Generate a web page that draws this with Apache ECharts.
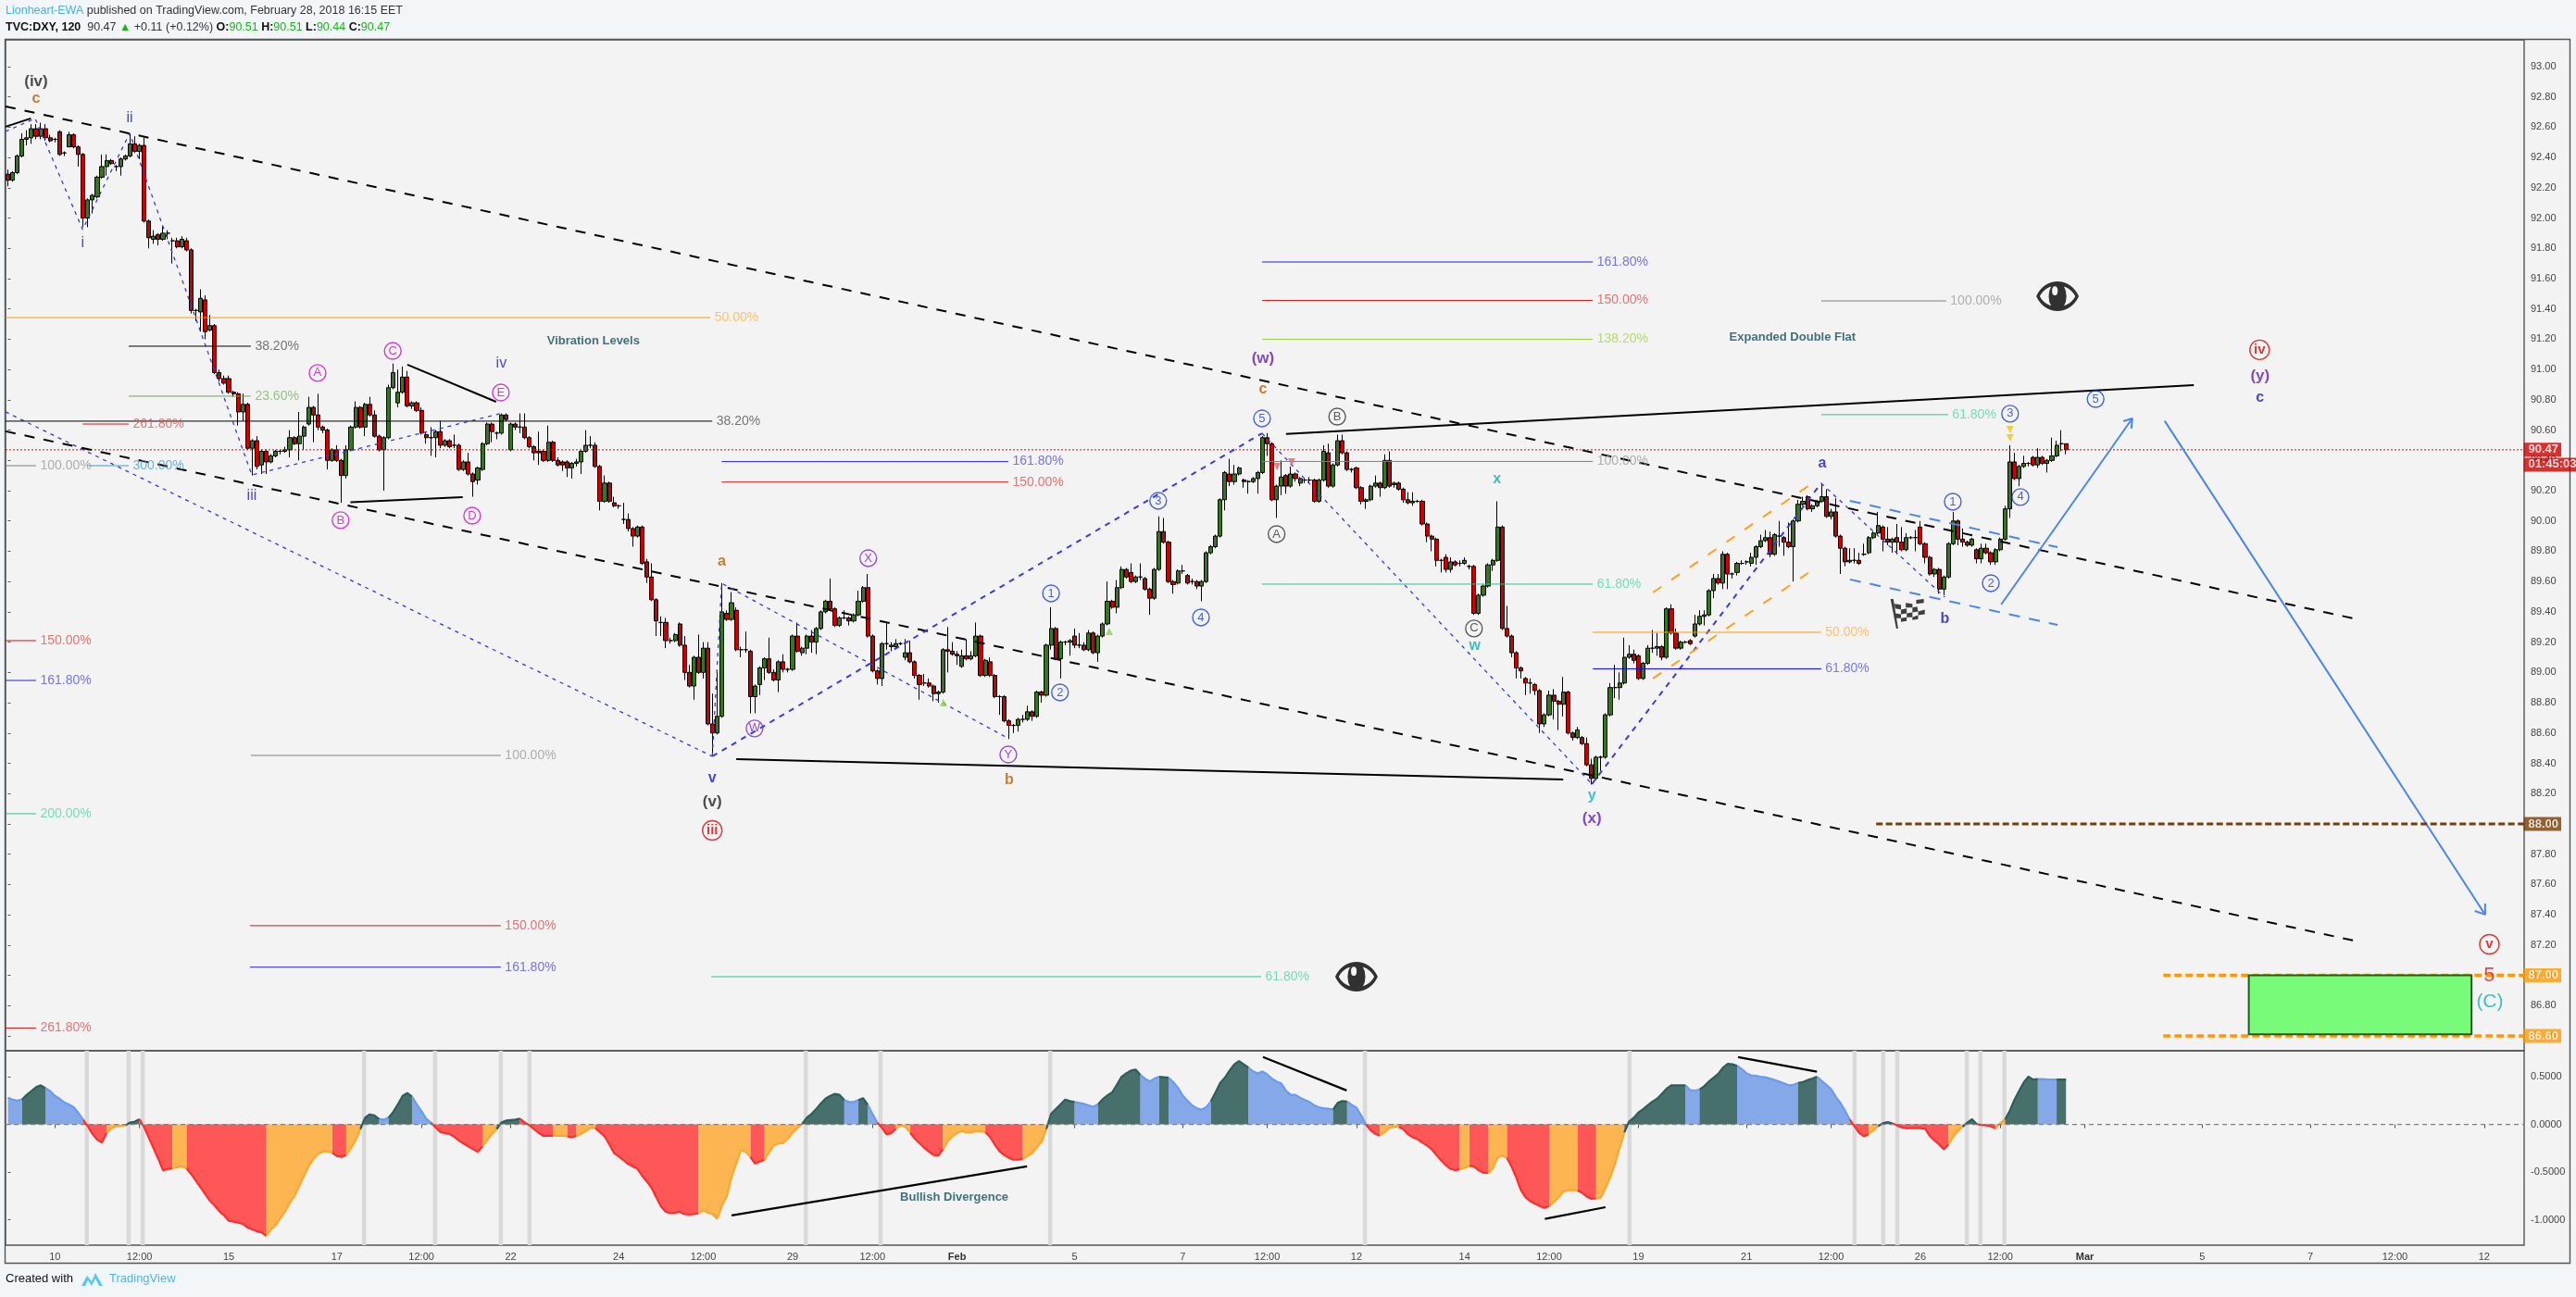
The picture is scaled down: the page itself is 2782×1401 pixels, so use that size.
<!DOCTYPE html>
<html>
<head>
<meta charset="utf-8">
<title>TVC:DXY, 120</title>
<style>html,body{margin:0;padding:0;background:#f2f6f9}#chart{width:2782px;height:1401px}</style>
<script src="https://cdn.jsdelivr.net/npm/echarts@6/dist/echarts.min.js"></script>
</head>
<body>
<div id="chart"></div>
<script>
// ---------- tick labels ----------
const slotCount = 536;
const timeTicks = [[10,'10'],[28,'12:00'],[47,'15'],[70,'17'],[88,'12:00'],[107,'22'],[130,'24'],[148,'12:00'],[167,'29'],[184,'12:00'],[202,'Feb'],[227,'5'],[250,'7'],[268,'12:00'],[287,'12'],[310,'14'],[328,'12:00'],[347,'19'],[370,'21'],[388,'12:00'],[407,'26'],[424,'12:00'],[442,'Mar'],[467,'5'],[490,'7'],[508,'12:00'],[527,'12']];
const priceTicks = [93,92.8,92.6,92.4,92.2,92,91.8,91.6,91.4,91.2,91,90.8,90.6,90.4,90.2,90,89.8,89.6,89.4,89.2,89,88.8,88.6,88.4,88.2,88,87.8,87.6,87.4,87.2,87,86.8,86.6];
const oscTicks = [0.5,0,-0.5,-1];

// ---------- candles: [open, close, low, high] ----------
const ohlc = [
[92.29,92.25,92.21,92.32],[92.25,92.30,92.24,92.31],[92.30,92.41,92.29,92.42],[92.41,92.52,92.40,92.56],[92.52,92.53,92.48,92.58],[92.53,92.59,92.49,92.62],[92.59,92.54,92.52,92.62],[92.54,92.59,92.52,92.63],[92.59,92.53,92.51,92.62],[92.53,92.51,92.50,92.55],
[92.52,92.52,92.50,92.53],[92.57,92.42,92.41,92.58],[92.43,92.43,92.41,92.44],[92.47,92.55,92.47,92.57],[92.55,92.47,92.46,92.56],[92.47,92.42,92.34,92.48],[92.42,92.00,91.94,92.43],[92.00,92.12,91.94,92.13],[92.12,92.15,92.03,92.16],[92.14,92.27,92.13,92.28],
[92.27,92.34,92.26,92.42],[92.34,92.38,92.28,92.42],[92.38,92.36,92.35,92.39],[92.34,92.34,92.31,92.35],[92.34,92.39,92.28,92.40],[92.39,92.41,92.38,92.42],[92.41,92.49,92.40,92.56],[92.49,92.44,92.43,92.54],[92.44,92.48,92.39,92.49],[92.48,91.98,91.97,92.53],
[91.98,91.87,91.80,91.99],[91.86,91.88,91.83,91.92],[91.89,91.86,91.82,91.90],[91.86,91.90,91.85,91.95],[91.90,91.90,91.86,91.92],[91.85,91.85,91.70,91.87],[91.85,91.81,91.80,91.87],[91.81,91.86,91.80,91.88],[91.85,91.79,91.78,91.87],[91.79,91.39,91.37,91.80],
[91.39,91.39,91.32,91.40],[91.38,91.47,91.25,91.53],[91.46,91.25,91.20,91.49],[91.26,91.29,91.25,91.36],[91.29,90.98,90.97,91.30],[90.98,90.94,90.92,91.00],[90.94,90.91,90.90,90.96],[90.94,90.85,90.84,90.96],[90.85,90.84,90.82,90.86],[90.84,90.72,90.63,90.85],
[90.72,90.77,90.66,90.84],[90.77,90.48,90.47,90.78],[90.48,90.53,90.30,90.54],[90.53,90.36,90.34,90.56],[90.37,90.46,90.31,90.47],[90.46,90.39,90.31,90.47],[90.39,90.43,90.38,90.44],[90.43,90.46,90.42,90.47],[90.46,90.46,90.44,90.47],[90.46,90.47,90.45,90.49],
[90.47,90.55,90.42,90.60],[90.55,90.51,90.50,90.56],[90.51,90.56,90.40,90.72],[90.56,90.62,90.47,90.63],[90.64,90.75,90.63,90.82],[90.75,90.70,90.52,90.76],[90.70,90.62,90.60,90.84],[90.62,90.60,90.58,90.63],[90.60,90.40,90.34,90.61],[90.40,90.47,90.39,90.48],
[90.47,90.40,90.39,90.50],[90.40,90.30,90.12,90.41],[90.30,90.47,90.28,90.50],[90.47,90.62,90.46,90.63],[90.62,90.75,90.61,90.79],[90.75,90.62,90.61,90.76],[90.62,90.77,90.56,90.78],[90.77,90.70,90.69,90.82],[90.70,90.56,90.55,90.73],[90.56,90.47,90.46,90.57],
[90.47,90.55,90.20,90.56],[90.55,90.88,90.54,90.90],[90.88,90.98,90.87,91.04],[90.78,90.85,90.75,91.00],[90.85,90.95,90.84,91.02],[90.95,90.76,90.75,90.99],[90.76,90.78,90.74,90.79],[90.78,90.73,90.72,90.79],[90.73,90.58,90.57,90.75],[90.57,90.55,90.51,90.59],
[90.55,90.55,90.43,90.62],[90.55,90.59,90.42,90.60],[90.59,90.50,90.48,90.66],[90.50,90.53,90.49,90.54],[90.53,90.49,90.48,90.54],[90.50,90.50,90.48,90.57],[90.50,90.34,90.33,90.51],[90.34,90.39,90.33,90.40],[90.39,90.31,90.30,90.45],[90.31,90.26,90.16,90.32],
[90.27,90.35,90.24,90.36],[90.34,90.51,90.33,90.52],[90.51,90.64,90.50,90.65],[90.64,90.59,90.52,90.65],[90.58,90.58,90.54,90.59],[90.58,90.70,90.57,90.71],[90.70,90.67,90.66,90.71],[90.47,90.64,90.46,90.65],[90.64,90.62,90.60,90.65],[90.62,90.62,90.58,90.71],
[90.62,90.55,90.54,90.71],[90.55,90.49,90.48,90.56],[90.49,90.45,90.40,90.50],[90.46,90.45,90.37,90.59],[90.46,90.40,90.39,90.47],[90.40,90.52,90.39,90.63],[90.52,90.40,90.39,90.53],[90.40,90.37,90.36,90.42],[90.39,90.37,90.33,90.40],[90.39,90.35,90.29,90.40],
[90.35,90.38,90.28,90.39],[90.38,90.39,90.36,90.41],[90.39,90.46,90.31,90.47],[90.46,90.50,90.45,90.60],[90.50,90.50,90.48,90.56],[90.50,90.36,90.35,90.52],[90.36,90.13,90.07,90.37],[90.13,90.25,90.12,90.30],[90.25,90.13,90.12,90.26],[90.12,90.10,90.09,90.16],
[90.10,90.10,90.08,90.11],[90.01,90.01,89.98,90.12],[90.01,89.95,89.93,90.05],[89.95,89.90,89.83,89.96],[89.90,89.96,89.89,89.97],[89.96,89.72,89.71,89.97],[89.73,89.63,89.59,89.75],[89.63,89.48,89.47,89.72],[89.48,89.34,89.24,89.49],[89.33,89.33,89.24,89.37],
[89.33,89.21,89.16,89.36],[89.21,89.21,89.19,89.23],[89.21,89.25,89.20,89.26],[89.32,89.18,89.17,89.33],[89.18,89.00,88.95,89.24],[89.00,88.91,88.90,89.05],[88.91,89.10,88.82,89.11],[89.10,89.00,88.99,89.25],[89.00,89.16,88.96,89.20],[89.16,88.66,88.65,89.20],
[88.66,88.60,88.45,88.86],[88.60,88.71,88.59,89.00],[88.71,89.40,88.70,89.59],[89.39,89.35,89.34,89.41],[89.35,89.46,89.34,89.53],[89.41,89.15,89.14,89.43],[89.15,89.15,89.10,89.17],[89.15,89.15,89.13,89.27],[89.14,88.84,88.73,89.15],[88.84,88.91,88.73,88.92],
[88.92,89.03,88.85,89.04],[89.03,89.09,88.95,89.10],[89.09,89.00,88.99,89.23],[89.00,88.95,88.94,89.02],[88.95,89.07,88.87,89.08],[89.07,89.02,89.00,89.12],[89.02,89.02,89.00,89.03],[89.02,89.24,89.01,89.25],[89.24,89.14,89.13,89.33],[89.13,89.16,89.11,89.17],
[89.16,89.24,89.12,89.25],[89.24,89.20,89.13,89.28],[89.20,89.29,89.12,89.30],[89.29,89.40,89.28,89.41],[89.40,89.47,89.39,89.48],[89.47,89.42,89.41,89.62],[89.42,89.31,89.30,89.43],[89.31,89.36,89.30,89.37],[89.36,89.36,89.35,89.41],[89.36,89.34,89.31,89.37],
[89.34,89.38,89.33,89.39],[89.38,89.47,89.37,89.54],[89.47,89.56,89.46,89.57],[89.56,89.24,89.23,89.65],[89.24,89.01,89.00,89.25],[89.01,88.96,88.92,89.02],[88.96,89.19,88.91,89.20],[89.19,89.19,89.15,89.33],[89.18,89.17,89.14,89.20],[89.17,89.19,89.16,89.22],
[89.19,89.19,89.18,89.20],[89.10,89.13,89.08,89.22],[89.13,89.07,89.06,89.21],[89.07,88.98,88.96,89.08],[88.98,88.92,88.82,88.99],[88.93,88.93,88.91,88.99],[88.93,88.91,88.90,88.96],[88.91,88.86,88.81,88.92],[88.86,88.87,88.80,88.88],[88.87,89.15,88.86,89.16],
[89.15,89.14,89.00,89.30],[89.14,89.12,89.11,89.20],[89.12,89.11,89.05,89.14],[89.04,89.11,89.03,89.15],[89.11,89.09,89.08,89.22],[89.09,89.11,89.08,89.14],[89.11,89.24,89.10,89.33],[89.24,88.98,88.97,89.25],[88.98,89.08,88.97,89.09],[89.07,88.98,88.97,89.10],
[88.98,88.84,88.83,88.99],[88.84,88.84,88.72,88.85],[88.84,88.68,88.67,88.85],[88.68,88.65,88.56,88.69],[88.65,88.65,88.60,88.66],[88.65,88.69,88.61,88.70],[88.69,88.69,88.67,88.72],[88.69,88.74,88.68,88.78],[88.74,88.71,88.68,88.75],[88.71,88.87,88.70,88.88],
[88.87,88.85,88.80,88.88],[88.85,89.18,88.84,89.19],[89.18,89.29,89.15,89.43],[89.29,89.09,89.08,89.30],[89.09,89.20,88.96,89.21],[89.20,89.20,89.18,89.21],[89.20,89.21,89.11,89.22],[89.24,89.18,89.16,89.29],[89.18,89.18,89.16,89.26],[89.18,89.15,89.14,89.20],
[89.15,89.26,89.14,89.28],[89.26,89.13,89.12,89.27],[89.13,89.24,89.07,89.25],[89.24,89.32,89.23,89.33],[89.32,89.47,89.31,89.60],[89.47,89.43,89.42,89.48],[89.43,89.56,89.39,89.61],[89.56,89.68,89.55,89.70],[89.68,89.63,89.62,89.69],[89.66,89.60,89.59,89.72],
[89.60,89.63,89.59,89.64],[89.63,89.63,89.61,89.72],[89.62,89.55,89.54,89.63],[89.55,89.49,89.38,89.56],[89.49,89.68,89.48,89.69],[89.68,89.93,89.67,90.03],[89.93,89.86,89.85,90.02],[89.86,89.60,89.59,89.87],[89.60,89.58,89.52,89.61],[89.59,89.67,89.58,89.68],
[89.67,89.67,89.65,89.71],[89.64,89.59,89.58,89.65],[89.60,89.60,89.58,89.62],[89.60,89.57,89.55,89.61],[89.57,89.60,89.47,89.61],[89.60,89.79,89.59,89.80],[89.79,89.83,89.78,89.84],[89.83,89.90,89.82,89.91],[89.90,90.14,89.89,90.15],[90.14,90.32,90.07,90.33],
[90.31,90.26,90.23,90.41],[90.26,90.31,90.24,90.37],[90.31,90.35,90.30,90.36],[90.27,90.26,90.22,90.28],[90.26,90.26,90.18,90.27],[90.26,90.28,90.25,90.29],[90.28,90.32,90.18,90.33],[90.32,90.55,90.31,90.56],[90.55,90.51,90.43,90.58],[90.51,90.14,90.13,90.52],
[90.14,90.23,90.02,90.24],[90.23,90.29,90.17,90.40],[90.30,90.23,90.18,90.31],[90.23,90.31,90.22,90.36],[90.31,90.28,90.26,90.32],[90.25,90.28,90.23,90.29],[90.27,90.27,90.25,90.28],[90.27,90.27,90.25,90.29],[90.27,90.13,90.12,90.28],[90.13,90.27,90.12,90.28],
[90.27,90.46,90.26,90.50],[90.45,90.23,90.22,90.51],[90.23,90.37,90.22,90.38],[90.37,90.53,90.36,90.57],[90.53,90.45,90.44,90.57],[90.45,90.34,90.33,90.46],[90.34,90.34,90.32,90.35],[90.35,90.22,90.21,90.36],[90.22,90.13,90.11,90.23],[90.13,90.14,90.08,90.15],
[90.14,90.23,90.13,90.24],[90.23,90.25,90.22,90.30],[90.25,90.22,90.16,90.26],[90.22,90.40,90.21,90.44],[90.40,90.23,90.22,90.46],[90.24,90.25,90.22,90.26],[90.25,90.21,90.20,90.26],[90.21,90.14,90.12,90.22],[90.14,90.12,90.11,90.19],[90.12,90.13,90.10,90.19],
[90.13,90.13,90.12,90.14],[90.13,89.98,89.97,90.14],[89.98,89.90,89.86,89.99],[89.90,89.88,89.80,89.91],[89.88,89.74,89.70,89.89],[89.74,89.74,89.66,89.75],[89.76,89.68,89.66,89.78],[89.68,89.73,89.66,89.76],[89.73,89.71,89.70,89.74],[89.72,89.72,89.70,89.74],
[89.72,89.74,89.71,89.76],[89.70,89.70,89.68,89.71],[89.70,89.39,89.38,89.71],[89.39,89.51,89.38,89.52],[89.51,89.57,89.50,89.58],[89.57,89.71,89.56,89.72],[89.71,89.74,89.67,89.75],[89.74,89.96,89.73,90.13],[89.96,89.29,89.28,89.97],[89.29,89.24,89.23,89.44],
[89.24,89.13,89.10,89.25],[89.13,89.03,88.96,89.14],[89.03,89.01,88.96,89.04],[88.96,88.93,88.85,88.97],[88.93,88.93,88.86,88.96],[88.92,88.88,88.85,88.93],[88.88,88.66,88.60,88.89],[88.66,88.72,88.64,88.73],[88.72,88.85,88.71,88.88],[88.85,88.81,88.69,88.89],
[88.81,88.79,88.62,88.82],[88.79,88.87,88.71,88.97],[88.87,88.60,88.59,88.88],[88.60,88.57,88.55,88.61],[88.57,88.62,88.56,88.64],[88.57,88.53,88.52,88.58],[88.53,88.39,88.38,88.57],[88.39,88.30,88.26,88.43],[88.30,88.44,88.29,88.45],[88.44,88.44,88.35,88.45],
[88.44,88.72,88.43,88.73],[88.72,88.90,88.71,88.93],[88.90,88.90,88.83,89.05],[88.90,88.93,88.82,89.00],[88.93,89.10,88.92,89.23],[89.10,89.12,89.09,89.18],[89.12,89.08,89.06,89.15],[89.11,88.96,88.95,89.12],[88.96,89.06,88.95,89.07],[89.06,89.16,89.05,89.18],
[89.16,89.16,89.13,89.28],[89.16,89.17,89.11,89.26],[89.17,89.10,89.08,89.18],[89.10,89.42,89.09,89.43],[89.42,89.26,89.25,89.45],[89.26,89.16,89.15,89.29],[89.16,89.20,89.15,89.21],[89.20,89.20,89.19,89.21],[89.21,89.19,89.18,89.22],[89.24,89.32,89.23,89.38],
[89.32,89.37,89.31,89.41],[89.37,89.38,89.31,89.41],[89.38,89.54,89.37,89.55],[89.54,89.62,89.49,89.65],[89.62,89.59,89.58,89.65],[89.59,89.78,89.55,89.80],[89.78,89.65,89.55,89.79],[89.65,89.65,89.62,89.66],[89.66,89.72,89.64,89.73],[89.72,89.72,89.71,89.74],
[89.73,89.73,89.71,89.74],[89.72,89.76,89.70,89.79],[89.76,89.83,89.71,89.84],[89.83,89.87,89.82,89.91],[89.87,89.89,89.86,89.94],[89.89,89.78,89.76,89.93],[89.78,89.91,89.77,89.92],[89.90,89.90,89.83,90.00],[89.89,89.86,89.77,89.90],[89.86,89.83,89.82,89.99],
[89.83,90.00,89.60,90.01],[90.00,90.11,89.99,90.14],[90.11,90.13,90.10,90.16],[90.16,90.08,90.07,90.17],[90.08,90.10,90.06,90.11],[90.10,90.13,90.09,90.14],[90.13,90.16,90.12,90.25],[90.16,90.03,90.02,90.21],[90.03,90.06,90.01,90.08],[90.06,89.90,89.89,90.15],
[89.90,89.82,89.65,89.91],[89.82,89.73,89.70,89.83],[89.73,89.74,89.72,89.82],[89.74,89.74,89.72,89.82],[89.74,89.72,89.71,89.79],[89.78,89.78,89.77,89.85],[89.79,89.89,89.78,89.90],[89.89,89.92,89.88,89.93],[89.92,89.97,89.91,90.06],[89.96,89.88,89.80,89.97],
[89.88,89.86,89.84,89.96],[89.86,89.88,89.79,89.89],[89.89,89.86,89.78,89.98],[89.86,89.81,89.80,89.96],[89.81,89.89,89.80,89.92],[89.89,89.89,89.88,89.90],[89.89,89.89,89.80,89.94],[89.96,89.85,89.84,90.00],[89.85,89.76,89.72,89.86],[89.76,89.65,89.64,89.77],
[89.65,89.68,89.63,89.69],[89.68,89.55,89.52,89.69],[89.55,89.63,89.51,89.64],[89.63,89.85,89.62,89.86],[89.85,90.00,89.84,90.06],[90.00,89.88,89.84,90.01],[89.88,89.86,89.83,89.95],[89.86,89.84,89.83,89.87],[89.84,89.88,89.83,89.89],[89.81,89.75,89.72,89.82],
[89.75,89.82,89.72,89.85],[89.82,89.79,89.78,89.85],[89.79,89.73,89.71,89.80],[89.73,89.81,89.71,89.82],[89.81,89.88,89.80,89.89],[89.88,90.08,89.87,90.10],[90.08,90.39,90.02,90.50],[90.39,90.28,90.27,90.45],[90.28,90.36,90.23,90.37],[90.36,90.38,90.35,90.43],
[90.38,90.38,90.36,90.39],[90.42,90.37,90.36,90.43],[90.37,90.42,90.35,90.48],[90.42,90.38,90.37,90.43],[90.38,90.40,90.32,90.41],[90.40,90.43,90.39,90.55],[90.43,90.50,90.42,90.53],[90.51,90.51,90.46,90.60],[90.51,90.47,90.44,90.51]
];

// ---------- oscillator values ----------
const oscValues = [
.28,.26,.25,.26,.31,.35,.39,.41,.38,.35,.30,.27,.23,.21,.18,.12,.05,-.02,-.10,-.16,-.19,-.09,-.04,-.02,-.015,-.01,.02,.03,.055,-.03,
-.14,-.25,-.36,-.48,-.47,-.46,-.45,-.44,-.46,-.52,-.59,-.66,-.73,-.80,-.85,-.91,-.95,-1.01,-1.02,-1.03,-1.04,-1.08,-1.10,-1.12,-1.13,-1.17,-1.10,-1.055,-.98,-.91,
-.82,-.75,-.645,-.54,-.44,-.36,-.31,-.285,-.285,-.295,-.33,-.34,-.32,-.25,-.165,-.05,.07,.105,.095,.055,.05,.07,.13,.21,.30,.33,.29,.21,.14,.06,
.02,-.03,-.08,-.09,-.10,-.13,-.17,-.20,-.23,-.26,-.285,-.23,-.165,-.10,-.05,.02,.04,.045,.05,.06,.02,-.01,-.05,-.09,-.12,-.12,-.12,-.12,-.12,-.125,
-.135,-.12,-.10,-.07,-.035,-.04,-.08,-.125,-.21,-.30,-.335,-.375,-.415,-.44,-.465,-.54,-.60,-.665,-.765,-.86,-.915,-.93,-.925,-.915,-.94,-.945,-.94,-.93,-.90,-.925,
-.94,-.985,-.845,-.75,-.55,-.41,-.27,-.285,-.34,-.41,-.39,-.37,-.295,-.22,-.20,-.195,-.15,-.085,-.04,.005,.07,.11,.16,.22,.27,.30,.32,.31,.255,.235,
.235,.255,.275,.205,.11,.02,-.035,-.105,-.09,-.045,-.01,-.025,-.085,-.15,-.195,-.245,-.285,-.32,-.325,-.26,-.175,-.125,-.09,-.07,-.085,-.085,-.07,-.07,-.08,-.13,
-.21,-.28,-.32,-.35,-.37,-.37,-.36,-.33,-.30,-.24,-.18,-.05,.11,.16,.21,.26,.245,.235,.225,.215,.20,.185,.21,.265,.305,.335,.415,.50,.535,.565,
.575,.52,.48,.45,.48,.50,.495,.49,.445,.385,.305,.25,.20,.17,.155,.18,.24,.335,.435,.49,.565,.63,.665,.63,.595,.555,.535,.555,.525,.48,
.45,.43,.355,.31,.31,.28,.255,.235,.20,.18,.17,.165,.155,.225,.245,.24,.205,.175,.095,-.002,-.06,-.10,-.115,-.08,-.035,-.025,-.025,-.05,-.105,-.135,
-.155,-.19,-.22,-.26,-.32,-.375,-.425,-.465,-.48,-.47,-.455,-.435,-.44,-.48,-.505,-.51,-.465,-.35,-.325,-.35,-.44,-.555,-.69,-.765,-.805,-.83,-.855,-.875,-.855,-.815,
-.765,-.705,-.69,-.69,-.69,-.715,-.755,-.78,-.775,-.765,-.665,-.555,-.415,-.245,-.085,.03,.07,.125,.16,.20,.24,.27,.32,.375,.41,.41,.41,.41,.36,.355,
.365,.40,.45,.49,.53,.595,.635,.63,.615,.58,.535,.515,.51,.50,.495,.48,.465,.45,.43,.41,.415,.435,.445,.465,.48,.50,.455,.415,.37,.29,
.225,.14,.05,-.02,-.09,-.125,-.10,-.06,-.02,.012,.025,.012,-.01,-.03,-.04,-.04,-.04,-.04,-.045,-.12,-.165,-.21,-.26,-.21,-.13,-.07,-.025,.02,.055,.003,
-.006,-.01,-.02,-.04,.012,.05,.14,.255,.35,.44,.50,.47,.475,.475,.47,.47,.47,.47,.47
];
// run starts: L = up side fading, D = up side rising, R = down side falling, O = down side fading
const oscRuns = [[0,'L'],[3,'D'],[8,'L'],[16,'R'],[21,'O'],[25,'D'],[28,'R'],[35,'O'],[38,'R'],[55,'O'],[69,'R'],[72,'O'],[75,'D'],[79,'L'],[81,'D'],[86,'L'],[90,'R'],[101,'O'],[104,'D'],[109,'R'],[116,'O'],[119,'R'],[121,'O'],[125,'R'],[147,'O'],[150,'R'],[151,'O'],[158,'R'],[161,'O'],[169,'D'],[178,'L'],[181,'D'],[183,'L'],[185,'R'],[189,'O'],[192,'R'],[199,'O'],[208,'R'],[216,'O'],[221,'D'],[227,'L'],[232,'D'],[241,'L'],[245,'D'],[247,'L'],[256,'D'],[264,'L'],[282,'D'],[285,'L'],[289,'R'],[292,'O'],[296,'R'],[309,'O'],[311,'R'],[315,'O'],[319,'R'],[328,'O'],[334,'R'],[338,'O'],[344,'D'],[357,'L'],[360,'D'],[368,'L'],[381,'D'],[385,'L'],[392,'R'],[396,'O'],[398,'D'],[401,'R'],[413,'O'],[416,'D'],[419,'R'],[423,'O'],[425,'D'],[432,'L'],[436,'D'],[438,'D']];
const oscMarkers = [16.8,25.7,28.7,75.8,90.9,104.9,111,169.8,185.7,221.8,288.8,345.1,393,399.1,402.1,416.9,419.8,424.9];
const oscDivergences = [[[154,-.954],[216.9,-.44]],[[267.1,.706],[284.9,.356]],[[327.1,-.99],[340,-.867]],[[368.2,.706],[385,.553]]];
const oscLabels = [['Bullish Divergence',201.4,-.767]];

// ---------- drawings: [bar slot, price] ----------
const channelLines = [[[-0.5,92.737],[500,89.351]],[[-0.5,90.592],[500,87.224]]];
const trendLines = [[[-0.5,92.603],[4.9,92.658]],[[85,91.032],[103.9,90.787]],[[72.9,90.123],[96.8,90.158]],[[155,88.428],[331,88.293]],[[272,90.575],[465.2,90.897]]];
const thinZigzags = [
  [[-0.5,92.572],[5.8,92.658],[15.9,91.924],[25.9,92.56],[51.9,90.304],[104.7,90.708]],
  [[-0.5,90.72],[149.9,88.446]],
  [[149.9,88.446],[151.9,89.589],[212.7,88.568]],
  [[266.9,90.579],[337.1,88.263]],
  [[385.9,90.249],[412.2,89.497]]
];
const heavyZigzags = [[[149.9,88.446],[266.9,90.579]],[[337.1,88.263],[385.9,90.249]]];
const orangeChannel = [[[350.1,89.528],[384,90.249]],[[350.1,88.96],[384,89.675]]];
const skyChannel = [[[392,90.133],[436.2,89.827]],[[392,89.614],[436.2,89.314]]];
const arrowPaths = [
  [[424.2,89.448],[452.1,90.677]],[[450.2,90.659],[452.1,90.677],[451.9,90.61]],
  [[459,90.661],[527.2,87.401]],[[525,87.425],[527.2,87.401],[527.2,87.474]]
];
const supportLine = [[397.6,88],[535.5,88]];
const targetLines = [[[458.7,87],[535.5,87]],[[458.7,86.6],[535.5,86.6]]];
const lastPriceLine = [[-0.5,90.47],[535.5,90.47]];
const targetBox = [[476.9,524.3,86.61,87]];

// fib levels: [text, palette key, from slot, to slot, price]
const fibLevels = [
['50.00%','orange',-0.5,149.5,91.343],['38.20%','black',25.7,51.7,91.154],['23.60%','leaf',25.7,51.7,90.824],['261.80%','red',15.9,25.7,90.64],
['100.00%','grey',-0.5,6,90.365],['300.00%','sky',16.8,25.7,90.365],['38.20%','black',-0.5,149.9,90.659],['150.00%','red',-0.5,6,89.21],
['161.80%','navy',-0.5,6,88.947],['200.00%','mint',-0.5,6,88.067],['100.00%','grey',51.7,104.9,88.452],['161.80%','navy',151.9,212.9,90.392],
['150.00%','red',151.9,212.9,90.257],['161.80%','navy',266.9,337.3,91.71],['150.00%','red',266.9,337.3,91.456],['138.20%','lime',266.9,337.3,91.2],
['100.00%','grey',266.9,337.3,90.393],['61.80%','mint',266.9,337.3,89.583],['50.00%','orange',337.3,385.9,89.265],['61.80%','blue',337.3,385.9,89.024],
['100.00%','grey',385.9,412.5,91.453],['61.80%','mint',385.9,412.9,90.702],['150.00%','red',51.5,104.9,87.328],['161.80%','navy',51.5,104.9,87.054],
['261.80%','red',-0.5,6,86.652],['61.80%','mint',149.7,266.7,86.991]
];
const fibLine = {orange:'#ff9800',black:'#000000',leaf:'#6aa84f',red:'#cc1a1a',grey:'#808080',sky:'#3d9ad1',navy:'#2222cc',mint:'#2fbf8f',lime:'#9ccc33',blue:'#0000ff'};
const fibText = {orange:'#ffb74d',black:'#555555',leaf:'#7cb560',red:'#e05555',grey:'#9c9c9c',sky:'#4aa3d8',navy:'#5555dd',mint:'#55d6ab',lime:'#a6d64b',blue:'#5a5aee'};

// wave labels: [text, bar slot, price]
const blackWaves = [['(iv)',6,92.902],['(v)',149.9,88.146]];
const brownWaves = [['c',6,92.786],['a',151.9,89.73],['b',213.1,88.287],['c',267.1,90.867]];
const romanWaves = [['i',15.9,91.832],['ii',25.9,92.658],['iii',51.9,90.164],['iv',105,91.038]];
const blueWaves = [['v',149.9,88.299],['a',386.1,90.378],['b',412.2,89.351],['c',479.3,90.812]];
const purpleWaves = [['(w)',267.1,91.074],['(x)',337.1,88.036],['(y)',479.3,90.958]];
const tealWaves = [['w',312.2,89.174],['x',316.9,90.274],['y',337.1,88.183]];
const bigRed = [['5',528.1,87]];
const bigTeal = [['(C)',528.2,86.826]];
const notes = [['Vibration Levels',124.6,91.185],['Expanded Double Flat',379.8,91.215]];
const magentaCircles = [['A',65.9,90.977],['C',81.9,91.123],['E',104.9,90.848],['B',70.8,90.005],['D',98.8,90.035]];
const purpleCircles = [['W',158.9,88.63],['X',183.1,89.754],['Y',212.9,88.458]];
const blueCircles = [['1',222,89.522],['2',223.9,88.868],['3',244.8,90.133],['4',253.9,89.363],['5',266.9,90.677],['1',413.9,90.127],['2',422,89.589],['3',426.1,90.708],['4',428.3,90.158],['5',444.3,90.805]];
const blackCircles = [['A',270,89.913],['B',282.9,90.689],['C',312,89.29]];
const redCircles = [['iii',149.9,87.957],['iv',479.2,91.13],['v',528.1,87.205]];
const greenTriangles = [[199.1,88.8],[234.4,89.271]];
const redTriangles = [[270.1,90.359],[273.2,90.39]];
const yellowTriangles = [[426.1,90.604],[426.1,90.549]];
const eyes = [[436.2,91.484],[287,86.991]];
const flags = [[404.3,89.387]];
const axisTags = [['90.47',90.47,'#cc0000'],['01:45:03',90.372,'#cc0000'],['88.00',88,'#783f04'],['87.00',87,'#ff9800'],['86.60',86.6,'#ff9800']];

// ---------- build ----------
const FONT = '"Liberation Sans", Arial, sans-serif';
const categories = Array.from({length:slotCount},()=> '');
timeTicks.forEach(([i,t])=>{categories[i]=t;});
const tickSet = new Set(timeTicks.map(t=>t[0]));
const P = {xAxisIndex:2,yAxisIndex:0};   // price pane drawings
const O = {xAxisIndex:3,yAxisIndex:1};   // oscillator pane drawings
const series = [];
function poly(pts,color,width,dash,axes,z){
  series.push(Object.assign({type:'line',data:pts,symbol:'none',silent:true,animation:false,z:z||4,
    lineStyle:{color,width,type:dash||'solid',cap:'butt'}},axes||P));
}
function texts(list,color,size,weight,axes){
  series.push(Object.assign({type:'scatter',silent:true,animation:false,z:8,clip:false,symbolSize:1,
    itemStyle:{color:'rgba(0,0,0,0)'},data:list.map(t=>[t[1],t[2],t[0]]),
    label:{show:true,position:'inside',formatter:p=>p.data[2],color,fontSize:size,fontWeight:weight||'normal',fontFamily:FONT}},axes||P));
}
function circles(list,color,dia,size,weight){
  series.push(Object.assign({type:'scatter',silent:true,animation:false,z:8,clip:false,symbol:'circle',symbolSize:dia,
    itemStyle:{color:'rgba(0,0,0,0)',borderColor:color,borderWidth:1.4},data:list.map(t=>[t[1],t[2],t[0]]),
    label:{show:true,position:'inside',formatter:p=>p.data[2],color,fontSize:size,fontWeight:weight||'normal',fontFamily:FONT}},P));
}
function icons(list,symbol,size,color,rotate){
  series.push(Object.assign({type:'scatter',silent:true,animation:false,z:8,symbol,symbolSize:size,symbolRotate:rotate||0,
    itemStyle:{color},data:list},P));
}

// oscillator fill runs
const oscStyle = {L:['#85a9e8','#6d9bec'],D:['#476f6b','#2f5e5a'],R:['#ff5757','#ff2d2d'],O:['#fdb552','#ffa726']};
oscMarkers.forEach(x=>poly([[x,0.772],[x,-1.265]],'#d9d9d9',4.5,'solid',O,1));
Object.keys(oscStyle).forEach(k=>{
  const data = oscValues.map(()=>null);
  oscRuns.forEach((r,n)=>{
    if(r[1]!==k) return;
    const end = n+1<oscRuns.length ? oscRuns[n+1][0] : r[0];
    for(let i=r[0];i<=end && i<oscValues.length;i++) data[i]=oscValues[i];
  });
  series.push({type:'line',xAxisIndex:1,yAxisIndex:1,data,symbol:'none',silent:true,animation:false,z:2,connectNulls:false,
    lineStyle:{color:oscStyle[k][1],width:2.2},areaStyle:{color:oscStyle[k][0],opacity:1}});
});
poly([[-0.5,0],[535.5,0]],'#808080',1.2,[5,4],O,3);
oscDivergences.forEach(l=>poly(l,'#000',2.2,'solid',O,4));
texts(oscLabels,'#134f5c',13,'bold',O);

// price pane
series.push({type:'candlestick',xAxisIndex:0,yAxisIndex:0,data:ohlc,barWidth:4.6,silent:true,animation:false,z:3,
  itemStyle:{color:'#38761d',color0:'#cc0000',borderColor:'#000',borderColor0:'#000',borderWidth:1}});
poly(lastPriceLine,'#e00000',1,[2,2]);
channelLines.forEach(l=>poly(l,'#000',2,[11,10]));
trendLines.forEach(l=>poly(l,'#000',2));
thinZigzags.forEach(l=>poly(l,'#3636e6',1.3,[4,5]));
heavyZigzags.forEach(l=>poly(l,'#3a3ae0',2,[6,6]));
orangeChannel.forEach(l=>poly(l,'#ff9f1c',2,[11,13]));
skyChannel.forEach(l=>poly(l,'#4a86e8',2,[12,10]));
arrowPaths.forEach(l=>poly(l,'#4a86e8',2));
poly(supportLine,'#783f04',3,[7,3.5]);
targetLines.forEach(l=>poly(l,'#ff9800',3.4,[8,4]));
series.push(Object.assign({type:'custom',silent:true,animation:false,z:5,data:targetBox,
  renderItem:(p,api)=>{
    const a=api.coord([api.value(0),api.value(3)]), b=api.coord([api.value(1),api.value(2)]);
    return {type:'rect',shape:{x:a[0],y:a[1],width:b[0]-a[0],height:b[1]-a[1]},
      style:{fill:'#78fb78',stroke:'#1b5e20',lineWidth:2}};
  }},P));
fibLevels.forEach(f=>poly([[f[2],f[4]],[f[3],f[4]]],fibLine[f[1]],1));
Object.keys(fibLine).forEach(k=>{
  const items = fibLevels.filter(f=>f[1]===k);
  series.push(Object.assign({type:'scatter',silent:true,animation:false,z:7,clip:false,symbolSize:1,
    itemStyle:{color:'rgba(0,0,0,0)'},data:items.map(f=>[f[3],f[4],f[0]]),
    label:{show:true,position:'right',distance:4,formatter:p=>p.data[2],color:fibText[k],fontSize:14,fontFamily:FONT}},P));
});
texts(blackWaves,'#222',17,'bold');
texts(brownWaves,'#b45f06',16,'bold');
texts(romanWaves,'#1a1ab8',16);
texts(blueWaves,'#1a1ab8',16,'bold');
texts(purpleWaves,'#6a1bb5',17,'bold');
texts(tealWaves,'#12b3b3',16,'bold');
texts(bigRed,'#cc2222',22);
texts(bigTeal,'#12b3b3',21);
texts(notes,'#134f5c',13,'bold');
circles(magentaCircles,'#c60fc6',18,13);
circles(purpleCircles,'#7b22c8',18,13);
circles(blueCircles,'#1c3fd0',18,13);
circles(blackCircles,'#333333',18,13);
circles(redCircles,'#cc0f0f',21,15,'bold');
icons(greenTriangles,'triangle',8,'#8fd14f');
icons(redTriangles,'triangle',8,'#e06666',180);
icons(yellowTriangles,'triangle',8,'#f1c40f',180);
const eyePath='path://M0 16C10 2 38 2 48 16C38 30 10 30 0 16ZM4 16C12 26 36 26 44 16C36 6 12 6 4 16ZM24 6A10 10 0 1 1 24 26A10 10 0 1 1 24 6ZM21 9A3.2 3.2 0 1 0 21 15.4A3.2 3.2 0 1 0 21 9Z';
icons(eyes,eyePath,[46,32],'#000');
const flagPath='path://M1 1L4 1L9 32L7 32ZM5 6L12 7L12 12L6 11ZM17 5L24 6L24 10L17 10ZM28 2L36 1L36 5L28 6ZM12 12L18 11L18 16L12 17ZM24 10L29 9L30 14L24 15ZM6 16L12 17L12 21L7 21ZM18 16L24 15L24 20L18 20ZM30 14L37 12L37 17L30 18ZM12 21L18 20L18 24L12 25ZM24 20L30 18L30 22L24 23Z';
icons(flags,flagPath,[37,32],'#111');
// right-hand price tags
series.push(Object.assign({type:'scatter',silent:true,animation:false,z:20,clip:false,symbolSize:1,itemStyle:{color:'rgba(0,0,0,0)'},
  data:axisTags.map(t=>({value:[535.5,t[1]],name:t[0],label:{backgroundColor:t[2]}})),
  label:{show:true,position:'right',distance:-1,formatter:'{b}',color:'#fff',fontSize:13,fontWeight:'bold',fontFamily:FONT,padding:[1,3,1,5]}},P));

const option = {
  animation:false,
  backgroundColor:'#f2f6f9',
  grid:[
    {left:6,top:43,width:2720,height:1092,show:true,borderColor:'#555',borderWidth:1.4,backgroundColor:'transparent'},
    {left:6,top:1135,width:2720,height:210,show:true,borderColor:'#555',borderWidth:1.4,backgroundColor:'transparent'}
  ],
  xAxis:[
    {type:'category',gridIndex:0,data:categories,show:false},
    {type:'category',gridIndex:1,data:categories,axisLine:{show:false},
      axisTick:{show:true,alignWithLabel:true,length:4,interval:i=>tickSet.has(i),lineStyle:{color:'#555'}},
      axisLabel:{show:true,interval:i=>tickSet.has(i),margin:7,color:'#444',fontSize:11,fontFamily:FONT,
        formatter:v=>(v==='Feb'||v==='Mar')?'{b|'+v+'}':v,rich:{b:{fontWeight:'bold',fontSize:11,color:'#333',fontFamily:FONT}}}},
    {type:'value',gridIndex:0,min:-0.5,max:535.5,show:false},
    {type:'value',gridIndex:1,min:-0.5,max:535.5,show:false}
  ],
  yAxis:[
    {type:'value',gridIndex:0,position:'right',min:86.502,max:93.177,splitLine:{show:false},axisLine:{show:false},
      axisTick:{show:true,length:3,customValues:priceTicks,lineStyle:{color:'#555'}},
      axisLabel:{show:true,customValues:priceTicks,showMinLabel:true,showMaxLabel:true,margin:7,color:'#444',fontSize:11,fontFamily:FONT,formatter:v=>v.toFixed(2)}},
    {type:'value',gridIndex:1,position:'right',min:-1.265,max:0.772,splitLine:{show:false},axisLine:{show:false},
      axisTick:{show:true,length:3,customValues:oscTicks,lineStyle:{color:'#555'}},
      axisLabel:{show:true,customValues:oscTicks,margin:7,color:'#444',fontSize:11,fontFamily:FONT,formatter:v=>v.toFixed(4)}}
  ],
  graphic:[
    {type:'rect',z:-10,shape:{x:5.5,y:42.5,width:2770,height:1322},style:{fill:'#f3f3f3',stroke:'#555',lineWidth:1.4}},
    {type:'text',left:6,top:5,style:{font:'12.5px '+FONT,
      text:'{a|Lionheart-EWA} {t|published on TradingView.com, February 28, 2018 16:15 EET}',
      rich:{a:{fill:'#45b3e0',fontSize:12.5,fontFamily:FONT},t:{fill:'#333',fontSize:12.5,fontFamily:FONT}}}},
    {type:'text',left:6,top:23,style:{font:'12.5px '+FONT,
      text:'{k|TVC:DXY, 120}  {t|90.47} {g|▲} {t|+0.11 (+0.12%)} {k|O:}{g|90.51} {k|H:}{g|90.51} {k|L:}{g|90.44} {k|C:}{g|90.47}',
      rich:{k:{fill:'#111',fontWeight:'bold',fontSize:12.5,fontFamily:FONT},t:{fill:'#333',fontSize:12.5,fontFamily:FONT},g:{fill:'#1db31d',fontSize:12.5,fontFamily:FONT}}}},
    {type:'text',left:6,top:1375,style:{text:'Created with',fill:'#111',font:'13px '+FONT}},
    {type:'polygon',z:5,shape:{points:[[88,1389],[94,1378],[99,1384],[103,1375],[111,1389],[107,1389],[103,1381],[99,1389],[95,1383],[92,1389]]},style:{fill:'#5ac8ee'}},
    {type:'text',left:118,top:1375,style:{text:'TradingView',fill:'#4db6e8',font:'13px '+FONT}}
  ],
  series
};
echarts.init(document.getElementById('chart'),null,{renderer:'canvas',width:2782,height:1401}).setOption(option);
</script>
</body>
</html>
